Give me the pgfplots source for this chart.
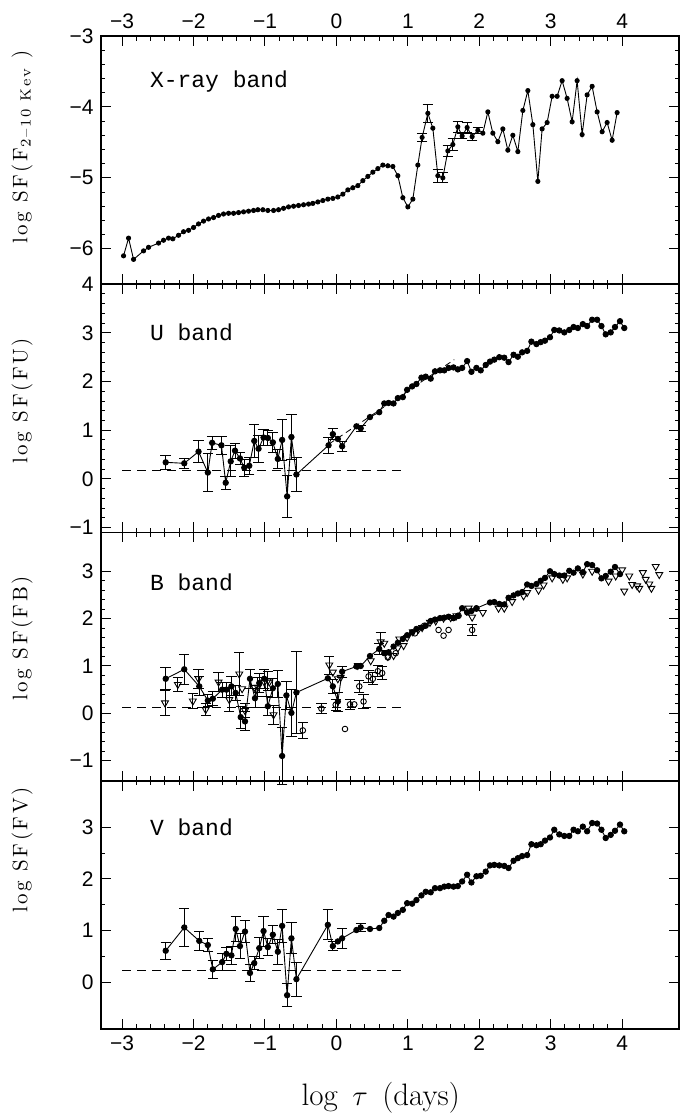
\documentclass[border=0pt]{standalone}
\usepackage{fontspec}
\usepackage{pgfplots}
\usepackage{pgfplotstable}
\pgfplotsset{compat=1.18}
\newfontfamily\tickfont{Liberation Sans}
\newfontfamily\cour{Liberation Mono}
\newfontfamily\ylabfont{Latin Modern Roman}[LetterSpace=12.0]

% ---------- X-ray ----------
\pgfplotstableread{
x y
-2.98 -6.10
-2.91 -5.85
-2.84 -6.15
-2.70 -6.03
-2.63 -5.98
-2.49 -5.92
-2.42 -5.88
-2.35 -5.85
-2.29 -5.86
-2.21 -5.81
-2.14 -5.76
-2.07 -5.74
-2.00 -5.70
-1.93 -5.65
-1.86 -5.61
-1.79 -5.58
-1.72 -5.56
-1.65 -5.53
-1.58 -5.51
-1.51 -5.50
-1.44 -5.50
-1.37 -5.49
-1.30 -5.48
-1.23 -5.47
-1.16 -5.46
-1.10 -5.45
-1.03 -5.45
-0.96 -5.46
-0.88 -5.46
-0.81 -5.45
-0.74 -5.43
-0.67 -5.41
-0.60 -5.40
-0.53 -5.39
-0.46 -5.38
-0.39 -5.37
-0.33 -5.36
-0.26 -5.34
-0.19 -5.32
-0.12 -5.30
-0.05 -5.29
0.02 -5.27
0.09 -5.23
0.16 -5.17
0.23 -5.14
0.30 -5.11
0.37 -5.04
0.44 -4.98
0.51 -4.92
0.58 -4.87
0.65 -4.82
0.72 -4.83
0.79 -4.84
0.86 -4.97
0.93 -5.28
1.00 -5.41
1.07 -5.30
1.14 -4.82
1.20 -4.43
1.28 -4.09
1.35 -4.30
1.42 -4.97
1.49 -5.00
1.56 -4.62
1.63 -4.53
1.70 -4.28
1.76 -4.41
1.83 -4.29
1.90 -4.42
1.98 -4.33
2.05 -4.37
2.12 -4.07
2.19 -4.37
2.26 -4.49
2.33 -4.31
2.40 -4.61
2.47 -4.40
2.54 -4.63
2.61 -4.05
2.68 -3.77
2.75 -4.25
2.82 -5.05
2.88 -4.31
2.95 -4.22
3.02 -3.85
3.09 -3.85
3.16 -3.63
3.23 -3.88
3.30 -4.21
3.37 -3.63
3.44 -4.39
3.51 -3.83
3.58 -3.71
3.65 -4.07
3.72 -4.35
3.79 -4.22
3.86 -4.47
3.93 -4.08
}\xray
\pgfplotstableread{
x y e
1.20 -4.43 0.05
1.28 -4.09 0.13
1.42 -4.97 0.09
1.49 -5.00 0.07
1.56 -4.62 0.08
1.63 -4.53 0.09
1.70 -4.28 0.08
1.76 -4.41 0.04
1.83 -4.29 0.07
1.90 -4.42 0.05
1.98 -4.33 0.04
}\xrayerr

% ---------- U ----------
\pgfplotstableread{
x y
-2.39 0.34
-2.13 0.32
-1.93 0.56
-1.80 0.13
-1.74 0.74
-1.61 0.69
-1.55 -0.08
-1.48 0.36
-1.42 0.58
-1.35 0.42
-1.29 0.23
-1.22 0.27
-1.15 0.78
-1.09 0.62
-1.02 0.85
-0.96 0.84
-0.89 0.75
-0.82 0.41
-0.76 0.80
-0.69 -0.36
-0.63 0.86
-0.56 0.09
-0.11 0.69
-0.05 0.92
0.02 0.82
0.08 0.67
0.28 1.08
0.34 1.04
0.47 1.27
0.60 1.37
0.67 1.55
0.73 1.56
0.80 1.55
0.86 1.66
0.93 1.68
0.99 1.83
1.06 1.90
1.12 1.95
1.19 2.08
1.25 2.10
1.32 2.06
1.38 2.21
1.45 2.23
1.51 2.23
1.57 2.28
1.64 2.29
1.70 2.25
1.76 2.28
1.83 2.42
1.89 2.20
1.96 2.28
2.02 2.23
2.09 2.34
2.15 2.41
2.21 2.45
2.28 2.50
2.35 2.49
2.41 2.40
2.48 2.55
2.54 2.51
2.60 2.60
2.67 2.63
2.73 2.82
2.80 2.77
2.86 2.81
2.92 2.84
2.99 2.91
3.05 3.06
3.12 3.05
3.19 3.01
3.26 3.06
3.32 3.12
3.38 3.10
3.45 3.18
3.51 3.14
3.58 3.27
3.65 3.27
3.71 3.14
3.77 2.97
3.84 3.01
3.90 3.12
3.97 3.24
4.03 3.10
}\uband
\pgfplotstableread{
x y e
-2.39 0.34 0.14
-2.13 0.32 0.11
-1.93 0.56 0.22
-1.80 0.13 0.39
-1.74 0.74 0.14
-1.61 0.69 0.18
-1.55 -0.08 0.13
-1.48 0.36 0.32
-1.42 0.58 0.15
-1.35 0.42 0.13
-1.29 0.23 0.17
-1.22 0.27 0.18
-1.15 0.78 0.33
-1.09 0.62 0.28
-1.02 0.85 0.16
-0.96 0.84 0.15
-0.89 0.75 0.20
-0.82 0.41 0.20
-0.76 0.80 0.43
-0.69 -0.36 0.43
-0.63 0.86 0.46
-0.56 0.09 0.35
-0.11 0.69 0.17
-0.05 0.92 0.12
0.08 0.67 0.10
0.34 1.04 0.06
}\uerr

% ---------- B ----------
\pgfplotstableread{
x y
-2.39 0.73
-2.13 0.93
-1.92 0.57
-1.80 0.27
-1.73 0.31
-1.60 0.50
-1.54 0.50
-1.47 0.57
-1.41 0.43
-1.34 -0.08
-1.28 -0.17
-1.21 0.73
-1.14 0.32
-1.08 0.64
-1.01 0.73
-0.96 0.15
-0.89 0.53
-0.82 0.62
-0.76 -0.90
-0.70 0.38
-0.63 0.01
-0.56 0.44
-0.12 0.74
-0.05 0.57
0.02 0.25
0.08 0.88
0.28 0.99
0.34 1.00
0.47 1.21
0.60 1.36
0.67 1.27
0.73 1.29
0.80 1.41
0.86 1.49
0.93 1.57
0.99 1.65
1.06 1.71
1.12 1.78
1.19 1.81
1.25 1.85
1.32 1.95
1.38 1.98
1.45 2.01
1.51 2.02
1.57 2.04
1.64 2.01
1.70 2.06
1.76 2.22
1.83 2.13
1.89 2.16
1.96 2.22
2.15 2.34
2.21 2.35
2.28 2.31
2.35 2.30
2.41 2.44
2.48 2.49
2.54 2.53
2.60 2.56
2.67 2.72
2.73 2.69
2.80 2.73
2.86 2.80
2.92 2.86
2.99 3.00
3.05 2.94
3.12 2.91
3.19 2.91
3.26 3.01
3.32 2.97
3.38 3.06
3.45 2.98
3.51 3.15
3.58 3.13
3.65 3.02
3.71 2.85
3.77 2.90
3.84 2.99
3.90 3.09
3.97 2.94
}\bband
\pgfplotstableread{
x y e
-2.39 0.73 0.23
-2.13 0.93 0.32
-1.92 0.57 0.20
-1.80 0.27 0.13
-1.73 0.31 0.15
-1.60 0.50 0.16
-1.54 0.50 0.16
-1.47 0.57 0.20
-1.41 0.43 0.16
-1.34 -0.08 0.23
-1.28 -0.17 0.20
-1.21 0.73 0.20
-1.14 0.32 0.20
-1.08 0.64 0.20
-1.01 0.73 0.20
-0.96 0.15 0.20
-0.89 0.53 0.20
-0.82 0.62 0.28
-0.76 -0.90 0.60
-0.70 0.38 0.30
-0.63 0.01 0.50
-0.56 0.44 0.87
-0.05 0.57 0.15
0.02 0.25 0.20
0.08 0.88 0.12
0.60 1.36 0.12
}\berr
\pgfplotstableread{
x y
-2.40 0.22
-2.22 0.61
-2.01 0.26
-1.93 0.73
-1.83 0.08
-1.65 0.66
-1.50 0.29
-1.36 0.83
-1.32 0.52
-1.28 0.06
-1.15 0.55
-1.10 0.55
-1.01 0.66
-0.96 0.69
-0.94 0.66
-0.88 -0.03
-0.10 1.02
-0.05 0.87
0.02 0.73
0.06 0.76
0.30 1.01
0.48 1.11
0.62 1.51
0.67 1.48
0.72 1.20
0.80 1.22
0.86 1.38
0.88 1.57
0.94 1.43
0.99 1.60
1.07 1.72
1.15 1.78
1.20 1.81
1.31 1.92
1.39 1.95
1.50 2.01
1.60 2.02
1.68 2.06
1.82 2.16
1.85 2.22
1.90 2.03
2.05 2.13
2.27 2.22
2.35 2.22
2.46 2.36
2.62 2.48
2.67 2.55
2.83 2.60
2.90 2.71
3.02 2.86
3.17 2.83
3.23 2.86
3.45 2.94
3.58 3.00
3.81 2.79
3.91 2.90
4.00 3.03
4.03 2.58
4.10 2.90
4.14 2.72
4.21 2.69
4.24 2.64
4.29 2.97
4.33 2.83
4.38 2.73
4.41 2.64
4.47 3.10
4.52 2.93
}\btri
\pgfplotstableread{
x y e
-2.40 0.22 0.26
-2.22 0.61 0.14
-2.01 0.26 0.15
-1.93 0.73 0.20
-1.83 0.08 0.12
-1.65 0.66 0.20
-1.50 0.29 0.25
-1.36 0.83 0.45
-1.28 0.06 0.15
-1.10 0.55 0.20
-0.96 0.69 0.20
-0.88 -0.03 0.20
-0.10 1.02 0.19
0.62 1.51 0.19
}\btrierr
\pgfplotstableread{
x y
-0.47 -0.36
-0.21 0.10
-0.01 0.18
0.12 -0.33
0.19 0.19
0.25 0.19
0.32 0.57
0.38 0.25
0.45 0.78
0.51 0.73
0.58 0.89
0.64 0.85
0.72 1.18
0.83 1.27
1.10 1.69
1.23 1.85
1.43 1.76
1.50 1.64
1.57 1.76
1.71 2.06
1.90 1.76
1.96 2.21
}\bcirc
\pgfplotstableread{
x y e
-0.47 -0.36 0.17
-0.21 0.10 0.11
-0.01 0.18 0.12
0.19 0.19 0.10
0.32 0.57 0.12
0.38 0.25 0.15
0.45 0.78 0.12
0.51 0.73 0.13
0.58 0.89 0.12
0.64 0.85 0.14
1.90 1.76 0.12
}\bcircerr

% ---------- V ----------
\pgfplotstableread{
x y
-2.39 0.61
-2.13 1.06
-1.92 0.80
-1.80 0.72
-1.73 0.25
-1.60 0.39
-1.54 0.55
-1.47 0.52
-1.41 1.03
-1.35 0.70
-1.28 0.98
-1.21 0.18
-1.15 0.37
-1.08 0.66
-1.02 0.99
-0.96 0.68
-0.89 0.92
-0.82 0.59
-0.76 1.09
-0.69 -0.25
-0.63 0.85
-0.56 0.06
-0.12 1.11
-0.05 0.70
0.02 0.79
0.08 0.85
0.28 1.01
0.34 1.06
0.47 1.03
0.60 1.05
0.67 1.19
0.73 1.30
0.80 1.27
0.86 1.34
0.93 1.40
0.99 1.53
1.06 1.52
1.12 1.59
1.19 1.68
1.25 1.75
1.32 1.74
1.38 1.82
1.45 1.82
1.51 1.85
1.57 1.86
1.64 1.85
1.70 1.86
1.76 1.95
1.83 2.08
1.89 1.93
1.96 2.05
2.02 2.06
2.09 2.14
2.15 2.26
2.21 2.27
2.28 2.26
2.35 2.25
2.41 2.21
2.48 2.35
2.54 2.40
2.60 2.44
2.67 2.46
2.73 2.67
2.80 2.65
2.86 2.67
2.92 2.74
2.99 2.80
3.05 2.95
3.12 2.86
3.19 2.83
3.26 2.83
3.32 2.95
3.38 2.92
3.45 3.01
3.51 2.92
3.58 3.08
3.65 3.07
3.71 2.95
3.77 2.79
3.84 2.85
3.90 2.93
3.97 3.05
4.03 2.92
}\vband
\pgfplotstableread{
x y e
-2.39 0.61 0.16
-2.13 1.06 0.36
-1.92 0.80 0.19
-1.80 0.72 0.13
-1.73 0.25 0.17
-1.60 0.39 0.17
-1.54 0.55 0.13
-1.47 0.52 0.17
-1.41 1.03 0.24
-1.35 0.70 0.24
-1.28 0.98 0.21
-1.21 0.18 0.16
-1.15 0.37 0.13
-1.08 0.66 0.20
-1.02 0.99 0.29
-0.96 0.68 0.16
-0.89 0.92 0.17
-0.82 0.59 0.24
-0.76 1.09 0.32
-0.69 -0.25 0.22
-0.63 0.85 0.30
-0.56 0.06 0.33
-0.12 1.11 0.29
-0.05 0.70 0.08
0.08 0.85 0.19
0.34 1.06 0.08
}\verr

\pgfplotsset{
  panel/.style={
    scale only axis, width=289.3pt, height=124.1pt, anchor=north west,
    xmin=-3.3, xmax=4.8, xtick={-3,...,4}, minor x tick num=4,
    xticklabels={}, xtick pos=both, ytick pos=both,
    tick align=inside, major tick length=5pt, minor tick length=2.3pt,
    axis line style={line width=0.9pt},
    every tick/.style={black, line width=0.5pt},
    every minor tick/.style={black, line width=0.5pt},
    ticklabel style={font=\tickfont\fontsize{10.5}{12}\selectfont},
    every axis y label/.style={rotate=90, anchor=center,
      font=\ylabfont\fontsize{10.5}{12}\selectfont},
    clip=false,
  },
  dots/.style={black, line width=0.45pt, mark=*, mark size=1.35pt, mark options={solid}},
  ebar/.style={draw=none, mark=none, forget plot,
    error bars/.cd, y dir=both, y explicit, error mark=-,
    error bar style={draw=black, line width=0.45pt},
    error mark options={rotate=90, draw=black, line width=0.45pt, mark size=2.6pt}},
  zero/.style={black, line width=0.6pt, dash pattern=on 4.5pt off 3pt},
}
\tikzset{band/.style={anchor=west, font=\cour\fontsize{11.5}{13}\selectfont}}

\begin{document}
\begin{tikzpicture}
\useasboundingbox (0,0) rectangle (346pt,-558pt);

% X-ray
\begin{axis}[panel, at={(50.35pt,-18pt)},
  ymin=-6.5, ymax=-3, ytick={-6,-5,-4,-3}, yticklabels={−6,−5,−4,−3}, minor y tick num=4,
  xticklabel pos=upper, xticklabels={−3,−2,−1,0,1,2,3,4},
  ylabel={log SF(F\textsubscript{2–10 Kev} )},
  ylabel style={at={(axis description cs:-0.136,0.553)}}]
\addplot[ebar] table[y error=e] {\xrayerr};
\addplot[dots, mark size=1.05pt] table {\xray};
\node[band] at (rel axis cs:0.073,0.815) {X-ray band};
\end{axis}

% U
\begin{axis}[panel, at={(50.35pt,-142.1pt)},
  ymin=-1.1, ymax=4, ytick={-1,0,...,4}, yticklabels={−1,0,1,2,3,4}, minor y tick num=4,
  ylabel={log SF(FU)},
  ylabel style={at={(axis description cs:-0.136,0.53)}}]
\addplot[zero] coordinates {(-3,0.18) (0.92,0.18)};
\addplot[black, line width=0.4pt, dash pattern=on 3pt off 2pt] coordinates {(-0.1,0.72) (1.65,2.45)};
\addplot[ebar] table[y error=e] {\uerr};
\addplot[dots] table {\uband};
\node[band] at (rel axis cs:0.073,0.805) {U band};
\end{axis}

% B
\begin{axis}[panel, at={(50.35pt,-266.2pt)},
  ymin=-1.42, ymax=3.82, ytick={-1,0,...,3}, yticklabels={−1,0,1,2,3}, minor y tick num=4,
  ylabel={log SF(FB)},
  ylabel style={at={(axis description cs:-0.136,0.573)}}]
\addplot[zero] coordinates {(-3,0.13) (0.92,0.13)};
\addplot[ebar] table[y error=e] {\berr};
\addplot[ebar] table[y error=e] {\btrierr};
\addplot[ebar] table[y error=e] {\bcircerr};
\addplot[only marks, mark=triangle, mark size=2pt, mark options={rotate=180, black, fill=white, line width=0.45pt}] table {\btri};
\addplot[only marks, mark=o, mark size=1.4pt, mark options={black, fill=white, line width=0.45pt}] table {\bcirc};
\addplot[dots] table {\bband};
\node[band] at (rel axis cs:0.073,0.80) {B band};
\end{axis}

% V
\begin{axis}[panel, at={(50.35pt,-390.3pt)},
  ymin=-0.9, ymax=3.9, ytick={0,1,2,3}, yticklabels={0,1,2,3}, minor y tick num=1,
  xticklabel pos=lower, xticklabels={−3,−2,−1,0,1,2,3,4},
  ylabel={log SF(FV)},
  ylabel style={at={(axis description cs:-0.136,0.72)}},
  xlabel={log\,\ $\tau$\,\ (days)},
  every axis x label/.style={at={(axis description cs:0.484,-0.278)}, anchor=center,
    font=\fontsize{15.5}{18}\selectfont}]
\addplot[zero] coordinates {(-3,0.23) (0.92,0.23)};
\addplot[ebar] table[y error=e] {\verr};
\addplot[dots] table {\vband};
\node[band] at (rel axis cs:0.073,0.812) {V band};
\end{axis}
\end{tikzpicture}
\end{document}
